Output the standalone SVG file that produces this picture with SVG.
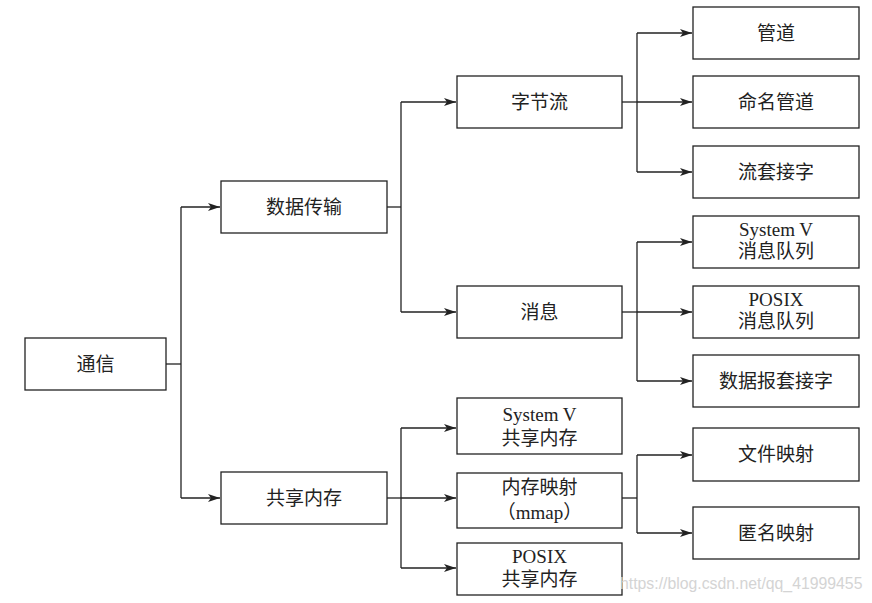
<svg xmlns="http://www.w3.org/2000/svg" width="872" height="603" viewBox="0 0 872 603">
<defs>
<marker id="arr" viewBox="0 0 12 8" refX="12" refY="4" markerWidth="12" markerHeight="8" markerUnits="userSpaceOnUse" orient="auto">
<path d="M0,0 L12,4 L0,8 L3,4 Z" fill="#222"/>
</marker>
<style>
.box{fill:#fff;stroke:#222;stroke-width:1.3}
.t{font-family:"Liberation Serif","Noto Sans CJK SC",serif;font-size:19px;fill:#222;text-anchor:middle}
.e{stroke:#222;stroke-width:1.3;fill:none}
.wm{font-family:"Liberation Sans",Arial,sans-serif;font-size:15.8px;fill:#d4d4d4}
</style>
</defs>
<rect width="872" height="603" fill="#fff"/>
<g id="connectors">
<path class="e" d="M166,364 H181"/>
<path class="e" d="M181,207 V498"/>
<path class="e" d="M181,207 H220" marker-end="url(#arr)"/>
<path class="e" d="M181,498 H220" marker-end="url(#arr)"/>
<path class="e" d="M387,207 H401"/>
<path class="e" d="M401,102 V312"/>
<path class="e" d="M401,102 H456" marker-end="url(#arr)"/>
<path class="e" d="M401,312 H456" marker-end="url(#arr)"/>
<path class="e" d="M387,498 H401"/>
<path class="e" d="M401,428 V568"/>
<path class="e" d="M401,428 H456" marker-end="url(#arr)"/>
<path class="e" d="M401,498 H456" marker-end="url(#arr)"/>
<path class="e" d="M401,568 H456" marker-end="url(#arr)"/>
<path class="e" d="M622,102 H637"/>
<path class="e" d="M637,33 V172"/>
<path class="e" d="M637,33 H692" marker-end="url(#arr)"/>
<path class="e" d="M637,102 H692" marker-end="url(#arr)"/>
<path class="e" d="M637,172 H692" marker-end="url(#arr)"/>
<path class="e" d="M622,312 H637"/>
<path class="e" d="M637,242 V381"/>
<path class="e" d="M637,242 H692" marker-end="url(#arr)"/>
<path class="e" d="M637,312 H692" marker-end="url(#arr)"/>
<path class="e" d="M637,381 H692" marker-end="url(#arr)"/>
<path class="e" d="M622,498 H637"/>
<path class="e" d="M637,455 V533"/>
<path class="e" d="M637,455 H692" marker-end="url(#arr)"/>
<path class="e" d="M637,533 H692" marker-end="url(#arr)"/>
</g>
<g id="n-tongxin"><rect class="box" x="25" y="338" width="141" height="52"/><text class="t" x="95.5" y="371">通信</text></g>
<g id="n-shujuchuanshu"><rect class="box" x="221" y="181" width="166" height="52"/><text class="t" x="304" y="214">数据传输</text></g>
<g id="n-gongxiangneicun"><rect class="box" x="221" y="472" width="166" height="52"/><text class="t" x="304" y="505">共享内存</text></g>
<g id="n-zijieliu"><rect class="box" x="457" y="76" width="165" height="52"/><text class="t" x="539.5" y="109">字节流</text></g>
<g id="n-xiaoxi"><rect class="box" x="457" y="286" width="165" height="52"/><text class="t" x="539.5" y="319">消息</text></g>
<g id="n-sysv-shm"><rect class="box" x="457" y="398" width="165" height="56"/><text class="t" x="539.5" y="421">System V</text><text class="t" x="539.5" y="445">共享内存</text></g>
<g id="n-mmap"><rect class="box" x="457" y="473" width="165" height="55"/><text class="t" x="539.5" y="494">内存映射</text><text class="t" x="539.5" y="519">（mmap）</text></g>
<g id="n-posix-shm"><rect class="box" x="457" y="543" width="165" height="52"/><text class="t" x="539.5" y="563">POSIX</text><text class="t" x="539.5" y="586">共享内存</text></g>
<g id="n-guandao"><rect class="box" x="693" y="7" width="166" height="52"/><text class="t" x="776" y="40">管道</text></g>
<g id="n-mingmingguandao"><rect class="box" x="693" y="76" width="166" height="52"/><text class="t" x="776" y="109">命名管道</text></g>
<g id="n-liutaojiezi"><rect class="box" x="693" y="146" width="166" height="52"/><text class="t" x="776" y="179">流套接字</text></g>
<g id="n-sysv-mq"><rect class="box" x="693" y="216" width="166" height="52"/><text class="t" x="776" y="236">System V</text><text class="t" x="776" y="258">消息队列</text></g>
<g id="n-posix-mq"><rect class="box" x="693" y="286" width="166" height="52"/><text class="t" x="776" y="306">POSIX</text><text class="t" x="776" y="328">消息队列</text></g>
<g id="n-shujubao"><rect class="box" x="693" y="355" width="166" height="52"/><text class="t" x="776" y="388">数据报套接字</text></g>
<g id="n-wenjianyingshe"><rect class="box" x="693" y="428" width="166" height="53"/><text class="t" x="776" y="461">文件映射</text></g>
<g id="n-nimingyingshe"><rect class="box" x="693" y="507" width="166" height="52"/><text class="t" x="776" y="540">匿名映射</text></g>
<text class="wm" x="620" y="589">https://blog.csdn.net/qq_41999455</text>
</svg>
